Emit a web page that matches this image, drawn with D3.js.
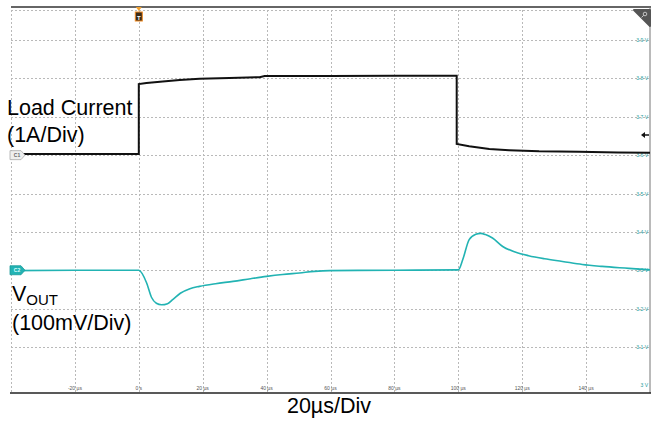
<!DOCTYPE html>
<html><head><meta charset="utf-8">
<script src="https://cdn.jsdelivr.net/npm/d3@7"></script>
<style>
html,body{margin:0;padding:0;background:#fff;}
svg{display:block;font-family:"Liberation Sans",Arial,sans-serif;}
</style></head>
<body><svg id="c" width="656" height="421"></svg>
<script>
// ---- data ----
const xTickValues = [-20, 0, 20, 40, 60, 80, 100, 120, 140];           // µs
const xTickLabels = ["-20 µs","0 s","20 µs","40 µs","60 µs","80 µs","100 µs","120 µs","140 µs"];
const yTickValues = [3.9, 3.8, 3.7, 3.6, 3.5, 3.4, 3.3, 3.2, 3.1, 3.0];  // V
const yTickLabels = ["3.9 V","3.8 V","3.7 V","3.6 V","3.5 V","3.4 V","3.3 V","3.2 V","3.1 V","3 V"];

// load current (A), 1 A/div, zero on the 3.6 V graticule line
const currentTime  = [-40, -20, 0, 0, 2.4, 7.5, 12.8, 19, 28.4, 37.8, 39.4, 60, 80, 99.5, 99.5, 103.4, 109.7, 115.9, 125.3, 137.8, 150, 160];
const currentValue = [0.03, 0.03, 0.03, 1.85, 1.88, 1.92, 1.96, 1.99, 2.01, 2.03, 2.06, 2.06, 2.07, 2.07, 0.29, 0.23, 0.16, 0.13, 0.10, 0.09, 0.07, 0.06];

// output voltage (V), 100 mV/div
const voutTime  = [-40, -20, 0, 2.4, 4, 5.5, 7.1, 9, 10.7, 13, 16, 19, 24, 29.5, 35, 40, 45, 50.3, 55, 59.7, 80, 100, 101.4, 103.4, 105.5, 107, 108.5, 110.7, 113.9, 118, 122, 127, 132.6, 138.8, 145, 153.4, 160];
const voutValue = [3.299, 3.300, 3.300, 3.268, 3.229, 3.214, 3.210, 3.213, 3.224, 3.240, 3.252, 3.258, 3.265, 3.271, 3.278, 3.284, 3.289, 3.293, 3.297, 3.299, 3.300, 3.301, 3.328, 3.380, 3.394, 3.396, 3.393, 3.384, 3.362, 3.347, 3.338, 3.330, 3.323, 3.315, 3.310, 3.305, 3.301];

// ---- layout ----
const svg = d3.select("#c");
const L = 11, R = 650, T = 7, B = 393;
const x = d3.scaleLinear().domain([-40, 160]).range([L, R]);
const yV = d3.scaleLinear().domain([3.1, 3.9]).range([347, 40]);
const perDiv = yV(3.5) - yV(3.6);
const yI = d3.scaleLinear().domain([0, 1]).range([yV(3.6), yV(3.6) - perDiv]);

const grid = "#b9b9b9";
// graticule
const g = svg.append("g");
g.append("line").attr("x1", L).attr("x2", R).attr("y1", 10.5).attr("y2", 10.5)
  .attr("stroke", grid).attr("stroke-dasharray", "2,2");
g.append("line").attr("x1", L + 0.5).attr("x2", L + 0.5).attr("y1", 10).attr("y2", B)
  .attr("stroke", grid).attr("stroke-dasharray", "2,2");
g.selectAll(".vg").data(xTickValues).join("line")
  .attr("x1", d => Math.round(x(d)) + 0.5).attr("x2", d => Math.round(x(d)) + 0.5)
  .attr("y1", 10).attr("y2", B).attr("stroke", grid).attr("stroke-dasharray", "2,2");
g.selectAll(".hg").data(yTickValues.filter(v => v > 3.05)).join("line")
  .attr("x1", L).attr("x2", R)
  .attr("y1", d => Math.round(yV(d)) + 0.5).attr("y2", d => Math.round(yV(d)) + 0.5)
  .attr("stroke", grid).attr("stroke-dasharray", "2,2");

// borders
svg.append("line").attr("x1", L).attr("x2", R + 1).attr("y1", T).attr("y2", T).attr("stroke", "#333").attr("stroke-width", 1.5);
svg.append("line").attr("x1", R).attr("x2", R).attr("y1", T).attr("y2", B).attr("stroke", "#777").attr("stroke-width", 1);
svg.append("line").attr("x1", 10).attr("x2", R + 1).attr("y1", B).attr("y2", B).attr("stroke", "#222").attr("stroke-width", 1.5);

// x tick labels
svg.selectAll(".xt").data(xTickValues).join("text")
  .attr("x", d => x(d)).attr("y", 390).attr("text-anchor", "middle")
  .attr("font-size", 5).attr("fill", "#555")
  .text((d, i) => xTickLabels[i]);
// y tick labels (channel 2 scale)
svg.selectAll(".yt").data(yTickValues).join("text")
  .attr("x", 648).attr("y", d => yV(d) + 2).attr("text-anchor", "end")
  .attr("font-size", 5).attr("fill", "#1b9a9a")
  .text((d, i) => yTickLabels[i]);

// traces
const curLine = d3.line().x((d, i) => x(currentTime[i])).y(d => yI(d));
svg.append("path").datum(currentValue).attr("d", curLine)
  .attr("fill", "none").attr("stroke", "#111").attr("stroke-width", 2);
const vLine = d3.line().x((d, i) => x(voutTime[i])).y(d => yV(d)).curve(d3.curveMonotoneX);
svg.append("path").datum(voutValue).attr("d", vLine)
  .attr("fill", "none").attr("stroke", "#22b3b3").attr("stroke-width", 1.6);

// channel markers
function marker(yc, fill, stroke, txt, tcol) {
  const gg = svg.append("g");
  gg.append("path")
    .attr("d", `M10,${yc-4.5} L21,${yc-4.5} L25,${yc} L21,${yc+4.5} L10,${yc+4.5} Z`)
    .attr("fill", fill).attr("stroke", stroke).attr("stroke-width", 0.8);
  gg.append("text").attr("x", 17).attr("y", yc + 2).attr("text-anchor", "middle")
    .attr("font-size", 5).attr("font-weight", "bold").attr("fill", tcol).text(txt);
}
marker(yI(0), "#eeeeee", "#aaaaaa", "C1", "#666");
marker(yV(3.3), "#22b3b3", "#1a9a9a", "C2", "#dff");

// trigger marker
const tx = x(0);
svg.append("path").attr("d", `M${tx-3},7 L${tx+3},7 L${tx},11 Z`).attr("fill", "#f0a030");
svg.append("rect").attr("x", tx - 3.5).attr("y", 12).attr("width", 7).attr("height", 9)
  .attr("fill", "#3a2a1a").attr("stroke", "#f08a20").attr("stroke-width", 1);
svg.append("text").attr("x", tx).attr("y", 19.5).attr("text-anchor", "middle")
  .attr("font-size", 6).attr("font-weight", "bold").attr("fill", "#fff").text("T");

// trigger level arrow
svg.append("path").attr("d", "M641,135 L645,132 L645,138 Z").attr("fill", "#111");
svg.append("line").attr("x1", 644).attr("x2", 649).attr("y1", 135).attr("y2", 135).attr("stroke", "#111").attr("stroke-width", 1.5);

// top-right zoom corner
svg.append("path").attr("d", "M634,10 L650,10 L650,26 Z").attr("fill", "#555").attr("stroke", "#555").attr("stroke-linejoin", "round").attr("stroke-width", 2);
svg.append("circle").attr("cx", 645).attr("cy", 14).attr("r", 1.8).attr("fill", "none").attr("stroke", "#ddd").attr("stroke-width", 0.8);
svg.append("line").attr("x1", 643.7).attr("y1", 15.3).attr("x2", 641.5).attr("y2", 17.5).attr("stroke", "#ddd").attr("stroke-width", 0.8);

// annotations
const ann = svg.append("g").attr("fill", "#000").attr("font-size", 21.5);
ann.append("text").attr("x", 7).attr("y", 115).text("Load Current");
ann.append("text").attr("x", 7).attr("y", 142).text("(1A/Div)");
const vt = ann.append("text").attr("x", 12).attr("y", 301);
vt.append("tspan").attr("font-size", 21.5).text("V");
vt.append("tspan").attr("font-size", 15).attr("dy", 3.5).text("OUT");
ann.append("text").attr("x", 12).attr("y", 330).text("(100mV/Div)");
ann.append("text").attr("x", 329).attr("y", 413).attr("text-anchor", "middle").text("20µs/Div");
</script></body></html>
